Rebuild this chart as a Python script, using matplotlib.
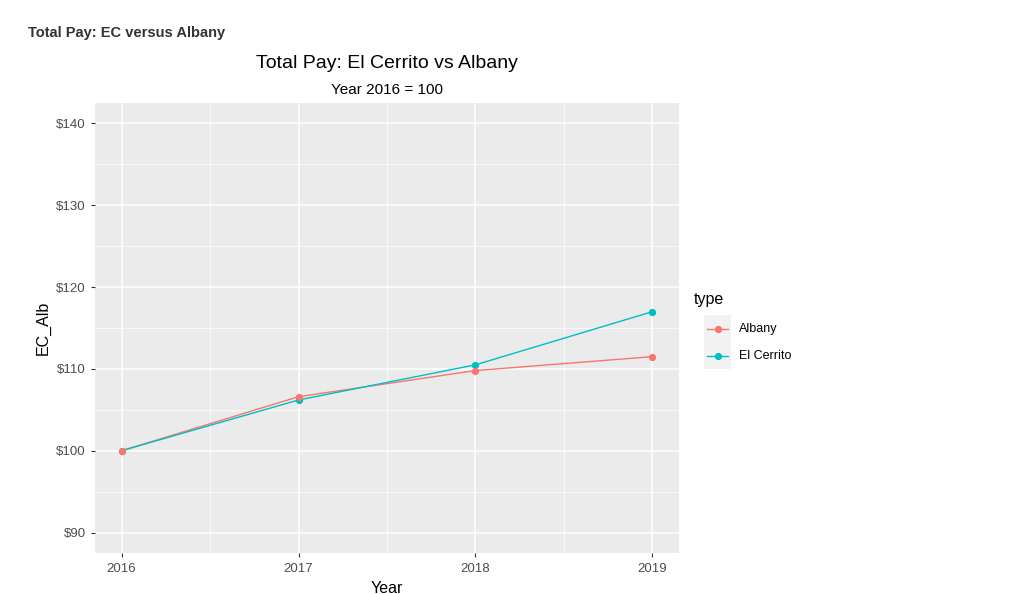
import numpy as np
import matplotlib
matplotlib.use("Agg")
import matplotlib.pyplot as plt
from matplotlib.ticker import MultipleLocator, FuncFormatter
from matplotlib.patches import Rectangle
from matplotlib.lines import Line2D

plt.rcParams['font.family'] = ['Liberation Sans', 'DejaVu Sans']

years = [2016, 2017, 2018, 2019]
albany = [100.0, 106.6, 109.8, 111.5]
el_cerrito = [100.0, 106.2, 110.5, 117.0]
series_names = ["Albany", "El Cerrito"]
series_colors = ["#F8766D", "#00BFC4"]

W, H = 1022, 594
fig = plt.figure(figsize=(W / 100, H / 100), dpi=100)
ax = fig.add_axes([95 / W, (H - 553) / H, 584 / W, 450 / H])
ax.set_facecolor("#EBEBEB")

# lines first, then points (Albany points on top like the original)
for vals, col in zip([albany, el_cerrito], series_colors):
    ax.plot(years, vals, color=col, lw=1.0, zorder=2)
for vals, col, z in zip([albany, el_cerrito], series_colors, [4, 3]):
    ax.plot(years, vals, color=col, lw=0, marker="o", ms=4.2, zorder=z)

ax.set_xlim(2016 - 0.15, 2019 + 0.15)
ax.set_ylim(87.5, 142.5)
ax.xaxis.set_major_locator(MultipleLocator(1))
ax.xaxis.set_minor_locator(MultipleLocator(0.5))
ax.yaxis.set_major_locator(MultipleLocator(10))
ax.yaxis.set_minor_locator(MultipleLocator(5))
ax.yaxis.set_major_formatter(FuncFormatter(lambda v, p: "${:.0f}".format(v)))
ax.xaxis.set_major_formatter(FuncFormatter(lambda v, p: "{:.0f}".format(v)))
ax.grid(which="major", color="white", lw=1.1)
ax.grid(which="minor", color="white", lw=0.5)
ax.set_axisbelow(True)
for s in ax.spines.values():
    s.set_visible(False)
ax.tick_params(which="major", length=3, color="#333333", labelcolor="#4D4D4D", labelsize=9.5)
ax.tick_params(axis="x", which="major", pad=4.5)
ax.tick_params(which="minor", length=0)

ax.set_xlabel("Year", fontsize=11.5, labelpad=4)
ax.set_ylabel("EC_Alb", fontsize=11.5, labelpad=4)

fig.text(28 / W, 1 - 33 / H, "Total Pay: EC versus Albany", fontsize=10.5,
         fontweight="bold", color="#333333", va="center")
fig.text(387 / W, 1 - 62 / H, "Total Pay: El Cerrito vs Albany", fontsize=14,
         ha="center", va="center_baseline")
fig.text(387 / W, 1 - 88 / H, "Year 2016 = 100", fontsize=11,
         ha="center", va="center_baseline")

# legend drawn by hand, ggplot style
fig.text(694 / W, 1 - 298 / H, "type", fontsize=11.5, va="center_baseline")
fig.patches.append(Rectangle((704 / W, 1 - 369 / H), 27 / W, 54 / H,
                             transform=fig.transFigure, facecolor="#F2F2F2",
                             edgecolor="none", zorder=0))
for i, (name, col) in enumerate(zip(series_names, series_colors)):
    yy = 1 - (329 + 27 * i) / H
    fig.add_artist(Line2D([707 / W, 728 / W], [yy, yy], color=col, lw=1.0,
                          transform=fig.transFigure))
    fig.add_artist(Line2D([717.5 / W], [yy], color=col, marker="o", ms=4.2,
                          lw=0, transform=fig.transFigure))
    fig.text(739 / W, yy, name, fontsize=9, va="center")

fig.savefig("out.png", dpi=100)
